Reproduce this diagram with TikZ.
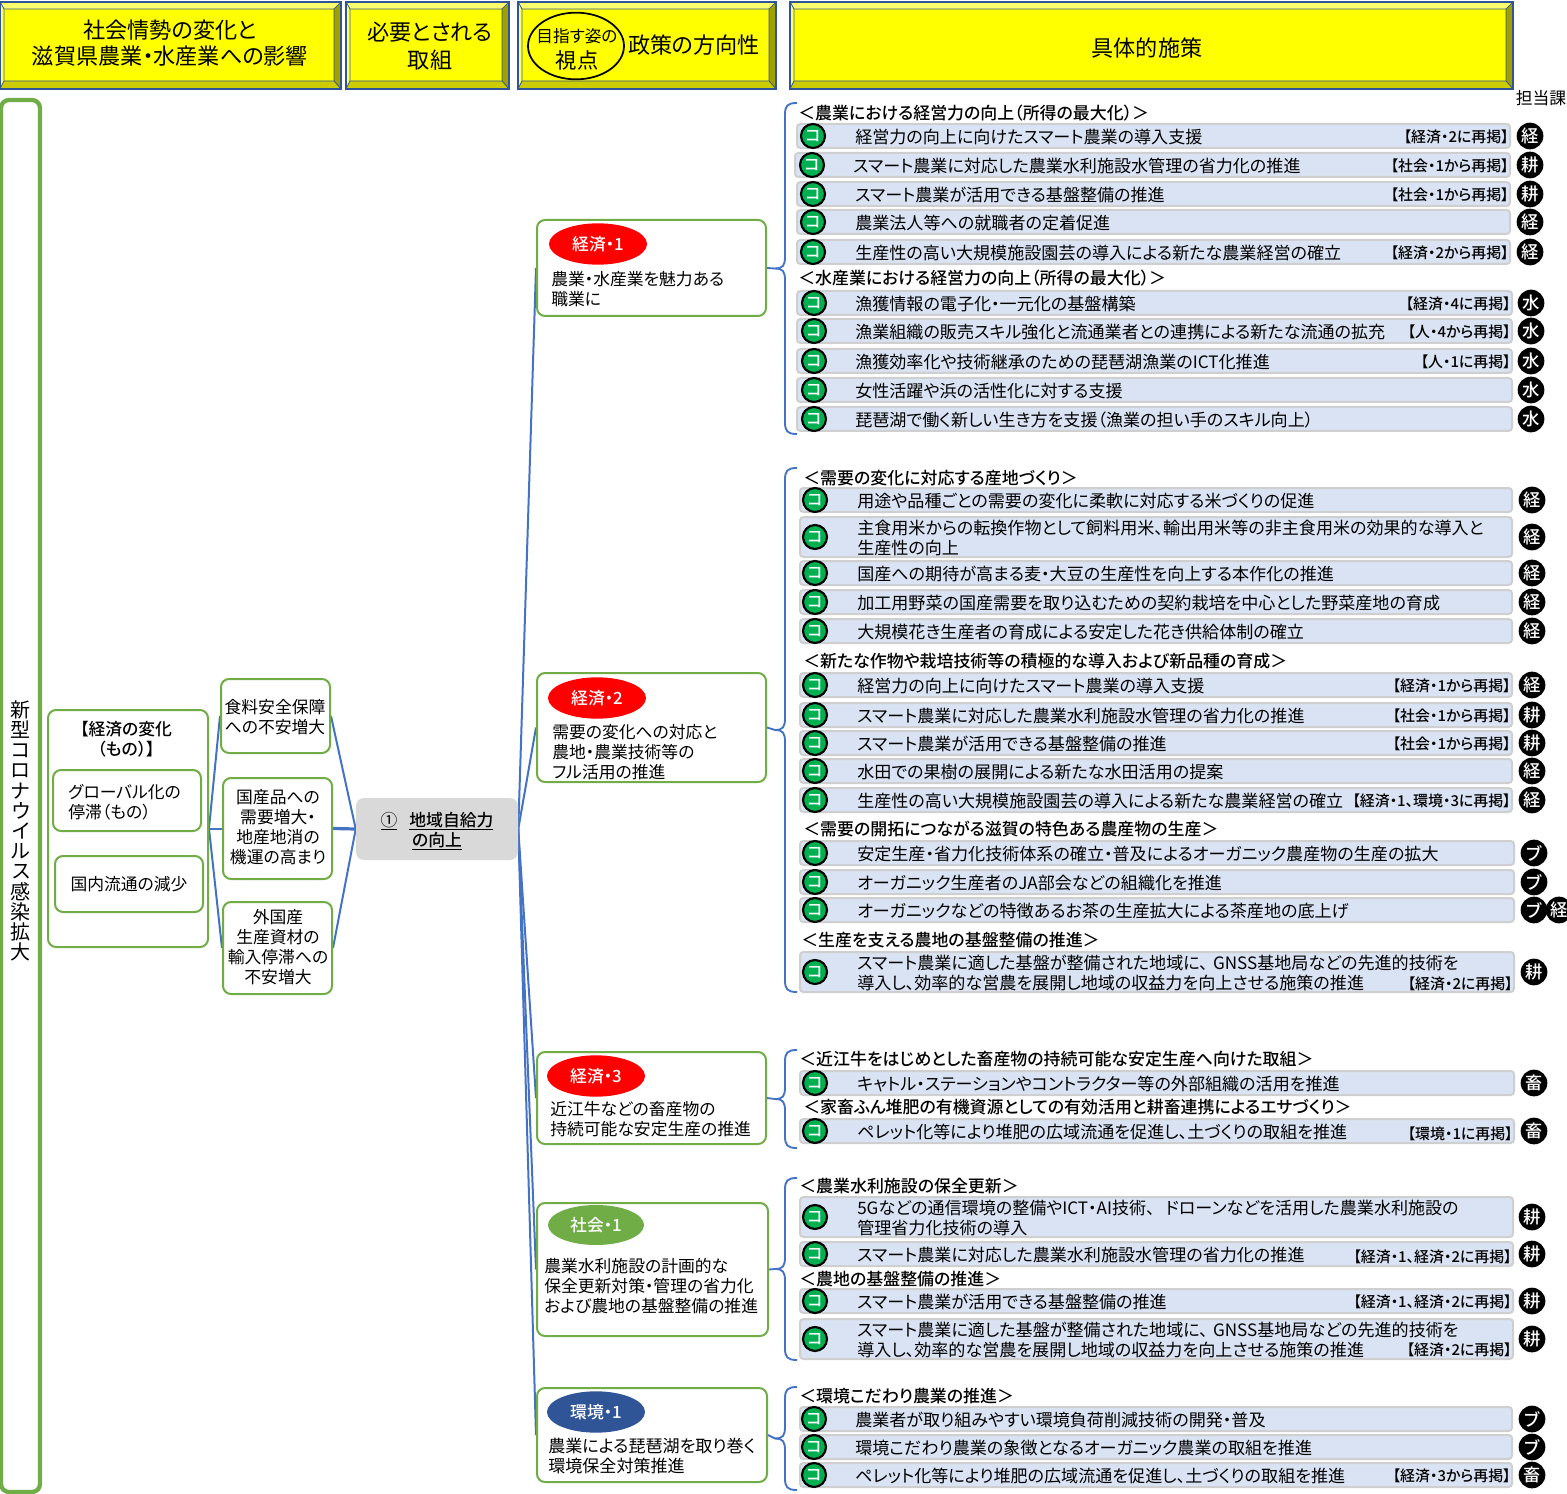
\documentclass[tikz,border=0pt]{standalone}
\usepackage{fontspec}
\setmainfont{Noto Sans CJK JP}[BoldFont={Noto Sans CJK JP Medium},RawFeature=+palt]
\usetikzlibrary{calc,shapes.geometric,backgrounds}
\definecolor{gbox}{HTML}{70AD47}
\definecolor{conn}{HTML}{4472C4}
\definecolor{barf}{HTML}{DAE3F3}
\definecolor{barl}{HTML}{CFCFCF}
\definecolor{hline}{HTML}{2F5597}
\definecolor{cong}{HTML}{00B050}
\definecolor{yel}{RGB}{255,255,0}
\definecolor{yeltop}{RGB}{255,255,110}
\definecolor{yelbot}{RGB}{204,204,0}
\definecolor{yelrt}{RGB}{160,160,0}
\definecolor{pure}{RGB}{255,0,0}
\newcounter{rw}
\newcommand{\fs}[2]{\fontsize{#1}{#2}\selectfont}
\tikzset{
 lbl/.style={inner sep=0pt,align=left,anchor=west,yshift=-.75pt,font=\fs{12.8}{15}},
 ctr/.style={inner sep=0pt,align=center,font=\fs{12.6}{15}},
 tagn/.style={inner sep=0pt,anchor=east,font=\fs{11.2}{13}\bfseries},
 headn/.style={inner sep=0pt,anchor=west,yshift=-.75pt,font=\fs{12.7}{15}\bfseries},
 greenbox/.style={draw=gbox,fill=white,line width=1.5pt,rounded corners=6pt,inner sep=0pt},
 barbox/.style={draw=barl,fill=barf,line width=1.5pt,rounded corners=2.5pt,inner sep=0pt},
 coni/.style={circle,draw=black,fill=cong,line width=1.6pt,minimum size=18pt,inner sep=0pt,text=white,font=\fs{12}{12}\bfseries},
 badg/.style={circle,fill=black,minimum size=20pt,inner sep=0pt,text=white,font=\fs{13}{13}\bfseries},
 pill/.style={ellipse,inner sep=0pt,text=white,font=\fs{12.6}{15}\bfseries},
 link/.style={draw=conn,line width=1.5pt},
}
% box from pixel corners
\newcommand{\pxbox}[7][]{%
 \pgfmathsetmacro\bw{((#5)-(#3))*.75}\pgfmathsetmacro\bh{((#6)-(#4))*.75}%
 \node[#1,minimum width=\bw pt,minimum height=\bh pt] (#2) at ({((#3)+(#5))/2},{((#4)+(#6))/2}) {#7};}
% bevelled header
\newcommand{\hdr}[5]{%
 \fill[yel] (#2,#3) rectangle (#4,#5);
 \draw[hline,line width=.5pt,fill=yeltop] (#2,#3) -- (#4,#3) -- (#4-7,#3+7) -- (#2+4,#3+7) -- cycle;
 \draw[hline,line width=.5pt,fill=yeltop] (#2,#3) -- (#2+4,#3+7) -- (#2+4,#5-8) -- (#2,#5) -- cycle;
 \draw[hline,line width=.5pt,fill=yelrt] (#4,#3) -- (#4,#5) -- (#4-7,#5-8) -- (#4-7,#3+7) -- cycle;
 \draw[hline,line width=.5pt,fill=yelbot] (#2,#5) -- (#4,#5) -- (#4-7,#5-8) -- (#2+4,#5-8) -- cycle;
 \coordinate (#1) at ({(#2+#4)/2},{(#3+#5)/2});
 \draw[hline,line width=1.5pt] (#2,#3) rectangle (#4,#5);}
\newcommand{\badge}[3]{\stepcounter{rw}\node[badg] (bd\therw) at (#1,#2) {#3};}
% \rowitem{y}{half height}{tag dy}{text}{tag}{badge}
\newcommand{\rowitem}[6]{%
 \stepcounter{rw}%
 \pxbox[barbox]{bar\therw}{\xl}{#1-#2}{\xr}{#1+#2}{}%
 \node[coni] (ic\therw) at (\cx,#1) {コ};
 \node[lbl] (tx\therw) at (\tx,#1) {#4};
 \node[tagn] (tg\therw) at (\xr-1,#1+1+#3) {#5};
 \badge{\bx}{#1}{#6}}
% \brc{name}{policy}{top}{bottom}{free end x}
\newcommand{\brc}[5]{%
 \coordinate (#1t) at (#5,#3); \coordinate (#1b) at (#5,#4);
 \draw[conn,line width=1.4pt] (#1t) .. controls (787,#3) and (785,#3+3) .. (785,#3+12) -- (785,{(#3+#4)/2-12}) .. controls (785,{(#3+#4)/2-3}) and (783,{(#3+#4)/2}) .. (775,{(#3+#4)/2}) -- (#2.east);
 \draw[conn,line width=1.4pt] (#1b) .. controls (787,#4) and (785,#4-3) .. (785,#4-12) -- (785,{(#3+#4)/2+12}) .. controls (785,{(#3+#4)/2+3}) and (783,{(#3+#4)/2}) .. (775,{(#3+#4)/2});}
\begin{document}
\begin{tikzpicture}[x=.75pt,y=-.75pt]
\useasboundingbox (0,0) rectangle (1567,1494);
% headers
\hdr{h1}{0}{2}{341}{89}
\hdr{h2}{346}{2}{509}{89}
\hdr{h3}{518}{2}{776}{89}
\hdr{h4}{790}{2}{1513}{89}
\node[ctr,font=\fs{16.6}{19}] (ht1) at (170,43) {社会情勢の変化と\\滋賀県農業・水産業への影響};
\node[ctr,font=\fs{16.6}{21.5}] (ht2) at (430,46) {必要とされる\\取組};
\draw[black,line width=1.3pt] (576,46) ellipse [x radius=36pt,y radius=25pt];
\node[ctr,font=\fs{12.5}{12.3}] (ht3a) at (577,36) {目指す姿の};
\node[ctr,font=\fs{16}{16}] (ht3b) at (577,60) {視点};
\node[ctr,font=\fs{16.6}{19}] (ht3c) at (694,45) {政策の方向性};
\node[ctr,font=\fs{16.6}{19}] (ht4) at (1147,48) {具体的施策};
\node[ctr] (tanto) at (1541,98) {担当課};
% green column
\pxbox[greenbox,line width=3.2pt]{col}{1}{100}{40}{1492}{}
\node[ctr,font=\fs{15}{15.15}] (colt) at (21,831) {新\\型\\コ\\ロ\\ナ\\ウ\\イ\\ル\\ス\\感\\染\\拡\\大};
% left boxes
\pxbox[greenbox]{lo}{48}{710}{208}{947}{}
\node[ctr,font=\fs{12.6}{15}\bfseries] (lot) at (126,739) {【経済の変化\\（もの）】};
\pxbox[greenbox]{l1}{53}{770}{201}{831}{}
\node[lbl,font=\fs{12.6}{15}] (l1t) at (68,801) {グローバル化の\\停滞（もの）};
\pxbox[greenbox]{l2}{55}{856}{203}{912}{\fs{12.6}{15}国内流通の減少}
\pxbox[greenbox]{mm1}{221}{679}{330}{753}{}
\node[ctr] (mt1) at (275,717) {食料安全保障\\への不安増大};
\pxbox[greenbox]{mm2}{223}{778}{332}{879}{}
\node[ctr] (mt2) at (278,827) {国産品への\\需要増大・\\地産地消の\\機運の高まり};
\pxbox[greenbox]{mm3}{223}{902}{332}{994}{}
\node[ctr] (mt3) at (278,947) {外国産\\生産資材の\\輸入停滞への\\不安増大};
\pxbox[fill=black!15,rounded corners=6pt,draw=none,inner sep=0pt]{cen}{356}{798}{518}{860}{}
\node[ctr,font=\fs{12.6}{15}\bfseries] (cent) at (437,831) {\underline{\mdseries ①}\hspace{9pt}\underline{地域自給力}\\\underline{の向上}};
% policy boxes
\pxbox[greenbox]{p1}{537}{220}{766}{316}{}
\node[pill,fill=pure,minimum width=73.5pt,minimum height=31pt] (e1) at (598,244) {経済・1};
\node[lbl,font=\fs{12.6}{15}] (pt1) at (551,288) {農業・水産業を魅力ある\\職業に};
\pxbox[greenbox]{p2}{537}{673}{766}{782}{}
\node[pill,fill=pure,minimum width=73.5pt,minimum height=31pt] (e2) at (597,698) {経済・2};
\node[lbl,font=\fs{12.6}{15}] (pt2) at (552,751) {需要の変化への対応と\\農地・農業技術等の\\フル活用の推進};
\pxbox[greenbox]{p3}{537}{1052}{766}{1144}{}
\node[pill,fill=pure,minimum width=73.5pt,minimum height=31pt] (e3) at (596,1076) {経済・3};
\node[lbl,font=\fs{12.6}{15}] (pt3) at (550,1118) {近江牛などの畜産物の\\持続可能な安定生産の推進};
\pxbox[greenbox]{p4}{537}{1203}{768}{1336}{}
\node[pill,fill=gbox,minimum width=72pt,minimum height=30pt] (e4) at (596,1225) {社会・1};
\node[lbl,font=\fs{12.6}{15}] (pt4) at (544,1285) {農業水利施設の計画的な\\保全更新対策・管理の省力化\\および農地の基盤整備の推進};
\pxbox[greenbox]{p5}{537}{1388}{767}{1482}{}
\node[pill,fill=hline,minimum width=73.5pt,minimum height=31pt] (e5) at (596,1412) {環境・1};
\node[lbl,font=\fs{12.8}{15}] (pt5) at (548,1455) {農業による琵琶湖を取り巻く\\環境保全対策推進};
% connectors
\begin{pgfonlayer}{background}
\draw[link] (lo.east) -- (mm1.west);
\draw[link] (lo.east) -- (mm2.west);
\draw[link] (lo.east) -- (mm3.west);
\draw[link] (mm1.east) -- (cen.west);
\draw[link,line width=2.4pt] (mm2.east) -- (cen.west);
\draw[link] (mm3.east) -- (cen.west);
\draw[link] (cen.east) -- (p1.west);
\draw[link] (cen.east) -- (p2.west);
\draw[link] (cen.east) -- (p3.west);
\draw[link] (cen.east) -- (p4.west);
\draw[link] (cen.east) -- (p5.west);
\end{pgfonlayer}
% braces
\brc{b1}{p1}{103}{434}{797}
\brc{b2}{p2}{468}{992}{797}
\brc{b3}{p3}{1050}{1148}{797}
\brc{b4}{p4}{1178}{1360}{797}
\brc{b5}{p5}{1387}{1490}{797}
% group 1
\def\xl{797}\def\xr{1510}\def\cx{813}\def\tx{855}\def\bx{1530}
\node[headn] (g1a) at (798,112) {＜農業における経営力の向上（所得の最大化）＞};
\rowitem{136}{12}{0}{経営力の向上に向けたスマート農業の導入支援}{【経済・2に再掲】}{経}
\def\xl{795}\def\tx{853}\def\cx{812}
\rowitem{165}{12}{0}{スマート農業に対応した農業水利施設水管理の省力化の推進}{【社会・1から再掲】}{耕}
\def\xl{797}\def\tx{855}\def\cx{813}
\rowitem{194}{12}{0}{スマート農業が活用できる基盤整備の推進}{【社会・1から再掲】}{耕}
\rowitem{222}{12}{0}{農業法人等への就職者の定着促進}{}{経}
\rowitem{252}{12}{0}{生産性の高い大規模施設園芸の導入による新たな農業経営の確立}{【経済・2から再掲】}{経}
\node[headn] (g1b) at (798,277) {＜水産業における経営力の向上（所得の最大化）＞};
\def\xr{1512}\def\cx{814}\def\bx{1531}
\rowitem{303}{12}{0}{漁獲情報の電子化・一元化の基盤構築}{【経済・4に再掲】}{水}
\rowitem{331}{12}{0}{漁業組織の販売スキル強化と流通業者との連携による新たな流通の拡充}{【人・4から再掲】}{水}
\rowitem{361}{12}{0}{漁獲効率化や技術継承のための琵琶湖漁業のICT化推進}{【人・1に再掲】}{水}
\rowitem{390}{12}{0}{女性活躍や浜の活性化に対する支援}{}{水}
\rowitem{419}{12}{0}{琵琶湖で働く新しい生き方を支援（漁業の担い手のスキル向上）}{}{水}
% group 2
\def\xl{800}\def\xr{1512}\def\cx{815}\def\tx{857}\def\bx{1532}
\node[headn] (g2a) at (803,477) {＜需要の変化に対応する産地づくり＞};
\rowitem{500}{12}{0}{用途や品種ごとの需要の変化に柔軟に対応する米づくりの促進}{}{経}
\rowitem{537}{20}{0}{主食用米からの転換作物として飼料用米、輸出用米等の非主食用米の効果的な導入と\\生産性の向上}{}{経}
\rowitem{573}{12}{0}{国産への期待が高まる麦・大豆の生産性を向上する本作化の推進}{}{経}
\rowitem{602}{12}{0}{加工用野菜の国産需要を取り込むための契約栽培を中心とした野菜産地の育成}{}{経}
\rowitem{631}{12}{0}{大規模花き生産者の育成による安定した花き供給体制の確立}{}{経}
\node[headn] (g2b) at (803,660) {＜新たな作物や栽培技術等の積極的な導入および新品種の育成＞};
\rowitem{685}{12}{0}{経営力の向上に向けたスマート農業の導入支援}{【経済・1から再掲】}{経}
\rowitem{715}{12}{0}{スマート農業に対応した農業水利施設水管理の省力化の推進}{【社会・1から再掲】}{耕}
\rowitem{743}{12}{0}{スマート農業が活用できる基盤整備の推進}{【社会・1から再掲】}{耕}
\rowitem{771}{12}{0}{水田での果樹の展開による新たな水田活用の提案}{}{経}
\rowitem{800}{12}{0}{生産性の高い大規模施設園芸の導入による新たな農業経営の確立}{【経済・1、環境・3に再掲】}{経}
\node[headn] (g2c) at (803,828) {＜需要の開拓につながる滋賀の特色ある農産物の生産＞};
\def\xr{1514}\def\bx{1534}
\rowitem{853}{12}{0}{安定生産・省力化技術体系の確立・普及によるオーガニック農産物の生産の拡大}{}{ブ}
\rowitem{882}{12}{0}{オーガニック生産者のJA部会などの組織化を推進}{}{ブ}
\rowitem{910}{12}{0}{オーガニックなどの特徴あるお茶の生産拡大による茶産地の底上げ}{}{ブ}
\badge{1559}{910}{経}
\node[headn] (g2d) at (801,939) {＜生産を支える農地の基盤整備の推進＞};
\rowitem{972}{20}{10.5}{スマート農業に適した基盤が整備された地域に、\hspace{4pt}GNSS基地局などの先進的技術を\\導入し、効率的な営農を展開し地域の収益力を向上させる施策の推進}{【経済・2に再掲】}{耕}
% group 3
\node[headn] (g3a) at (799,1058) {＜近江牛をはじめとした畜産物の持続可能な安定生産へ向けた取組＞};
\rowitem{1083}{12}{0}{キャトル・ステーションやコントラクター等の外部組織の活用を推進}{}{畜}
\node[headn] (g3b) at (803,1106) {＜家畜ふん堆肥の有機資源としての有効活用と耕畜連携によるエサづくり＞};
\rowitem{1131}{12}{2}{ペレット化等により堆肥の広域流通を促進し、土づくりの取組を推進}{【環境・1に再掲】}{畜}
% group 4
\def\xl{800}\def\xr{1513}\def\bx{1532}
\node[headn] (g4a) at (799,1185) {＜農業水利施設の保全更新＞};
\rowitem{1217}{20}{0}{5Gなどの通信環境の整備やICT・AI技術、\hspace{8pt}ドローンなどを活用した農業水利施設の\\管理省力化技術の導入}{}{耕}
\rowitem{1254}{12}{2}{スマート農業に対応した農業水利施設水管理の省力化の推進}{【経済・1、経済・2に再掲】}{耕}
\node[headn] (g4b) at (799,1278) {＜農地の基盤整備の推進＞};
\rowitem{1301}{12}{0}{スマート農業が活用できる基盤整備の推進}{【経済・1、経済・2に再掲】}{耕}
\rowitem{1339}{20}{10}{スマート農業に適した基盤が整備された地域に、\hspace{4pt}GNSS基地局などの先進的技術を\\導入し、効率的な営農を展開し地域の収益力を向上させる施策の推進}{【経済・2に再掲】}{耕}
% group 5
\def\xl{800}\def\xr{1512}\def\cx{814}\def\tx{855}
\node[headn] (g5a) at (799,1395) {＜環境こだわり農業の推進＞};
\rowitem{1419}{12}{0}{農業者が取り組みやすい環境負荷削減技術の開発・普及}{}{ブ}
\rowitem{1447}{12}{0}{環境こだわり農業の象徴となるオーガニック農業の取組を推進}{}{ブ}
\rowitem{1475}{12}{0}{ペレット化等により堆肥の広域流通を促進し、土づくりの取組を推進}{【経済・3から再掲】}{畜}
\end{tikzpicture}
\end{document}
